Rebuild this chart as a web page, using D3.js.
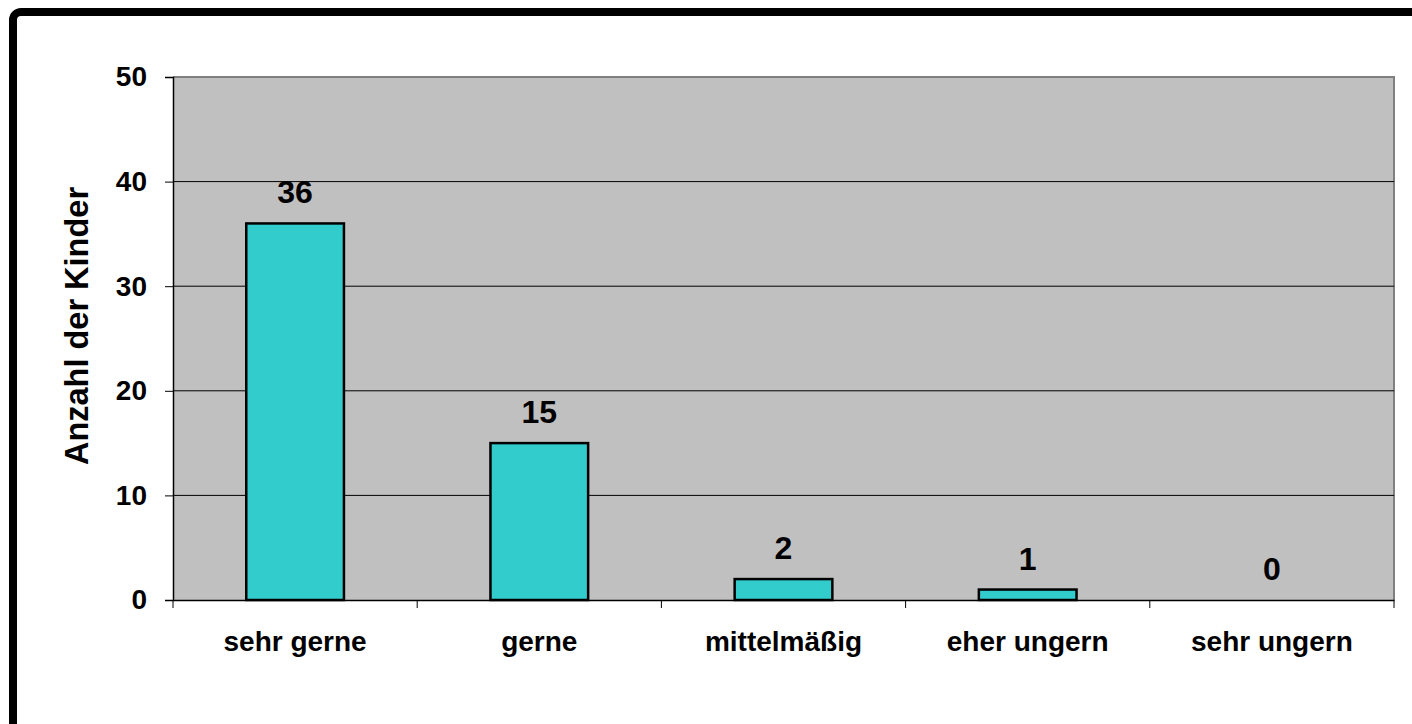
<!DOCTYPE html>
<html>
<head>
<meta charset="utf-8">
<script src="https://cdn.jsdelivr.net/npm/d3@7"></script>
<style>
  html, body { margin: 0; padding: 0; background: #fff; }
  svg { display: block; font-family: "Liberation Sans", Arial, sans-serif; font-weight: bold; }
</style>
</head>
<body>
<svg id="chart" width="1412" height="724"></svg>
<script>
const categories = ["sehr gerne", "gerne", "mittelmäßig", "eher ungern", "sehr ungern"];
const values = [36, 15, 2, 1, 0];
const yTicks = [0, 10, 20, 30, 40, 50];
const yTitle = "Anzahl der Kinder";

const svg = d3.select("#chart");
const W = 1412, H = 724;
const plot = { left: 173, top: 77, right: 1394, bottom: 600 };

// outer frame
svg.append("rect")
  .attr("x", 13).attr("y", 12)
  .attr("width", W + 20).attr("height", H + 20)
  .attr("rx", 8).attr("ry", 8)
  .attr("fill", "#fff")
  .attr("stroke", "#000").attr("stroke-width", 8);

const x = d3.scaleBand().domain(categories).range([plot.left, plot.right]).padding(0);
const y = d3.scaleLinear().domain([0, 50]).range([plot.bottom, plot.top]);

// plot area background
svg.append("rect")
  .attr("x", plot.left).attr("y", plot.top)
  .attr("width", plot.right - plot.left).attr("height", plot.bottom - plot.top)
  .attr("fill", "#c0c0c0");

// top/right gray border
svg.append("path")
  .attr("d", `M${plot.left},${plot.top}H${plot.right}V${plot.bottom}`)
  .attr("fill", "none").attr("stroke", "#808080").attr("stroke-width", 2);

// gridlines
svg.append("g").selectAll("line")
  .data(yTicks.filter(t => t > 0 && t < 50))
  .join("line")
  .attr("x1", plot.left).attr("x2", plot.right)
  .attr("y1", d => y(d)).attr("y2", d => y(d))
  .attr("stroke", "#000").attr("stroke-width", 1);

// y axis
const yAxis = svg.append("g")
  .attr("transform", `translate(${plot.left},0)`)
  .call(d3.axisLeft(y).tickValues(yTicks).tickSize(8).tickPadding(18).tickFormat(d3.format("d")));
yAxis.select(".domain").attr("stroke", "#000").attr("stroke-width", 1.5);
yAxis.selectAll(".tick line").attr("stroke", "#000").attr("stroke-width", 1);
yAxis.selectAll(".tick text")
  .attr("font-size", 28).attr("font-family", "Liberation Sans, Arial, sans-serif")
  .attr("font-weight", "bold").attr("fill", "#000");

// bars
const barW = x.bandwidth() * 0.4;
svg.append("g").selectAll("rect")
  .data(values.map((v, i) => ({ c: categories[i], v })))
  .join("rect")
  .attr("x", d => x(d.c) + (x.bandwidth() - barW) / 2)
  .attr("y", d => y(d.v))
  .attr("width", barW)
  .attr("height", d => y(0) - y(d.v))
  .attr("fill", "#33cccc")
  .attr("stroke", "#000")
  .attr("stroke-width", d => d.v > 0 ? 2.5 : 0);

// x axis
const xAxis = svg.append("g")
  .attr("transform", `translate(0,${plot.bottom})`)
  .call(d3.axisBottom(x).tickSize(0).tickPadding(31));
xAxis.select(".domain").attr("stroke", "#000").attr("stroke-width", 1.5);
xAxis.selectAll(".tick text")
  .attr("font-size", 28).attr("font-family", "Liberation Sans, Arial, sans-serif")
  .attr("font-weight", "bold").attr("fill", "#000");

// category boundary ticks
const bounds = categories.map(c => x(c)).concat([x(categories[categories.length - 1]) + x.bandwidth()]);
svg.append("g").selectAll("line")
  .data(bounds)
  .join("line")
  .attr("x1", d => d).attr("x2", d => d)
  .attr("y1", plot.bottom).attr("y2", plot.bottom + 8)
  .attr("stroke", "#000").attr("stroke-width", 1);

// value labels
svg.append("g").selectAll("text")
  .data(values.map((v, i) => ({ c: categories[i], v })))
  .join("text")
  .attr("x", d => x(d.c) + x.bandwidth() / 2)
  .attr("y", d => y(d.v) - 20)
  .attr("text-anchor", "middle")
  .attr("font-size", 32)
  .attr("fill", "#000")
  .text(d => d.v);

// y title
svg.append("text")
  .attr("transform", `translate(88,326) rotate(-90)`)
  .attr("text-anchor", "middle")
  .attr("font-size", 32.5)
  .attr("fill", "#000")
  .text(yTitle);
</script>
</body>
</html>
